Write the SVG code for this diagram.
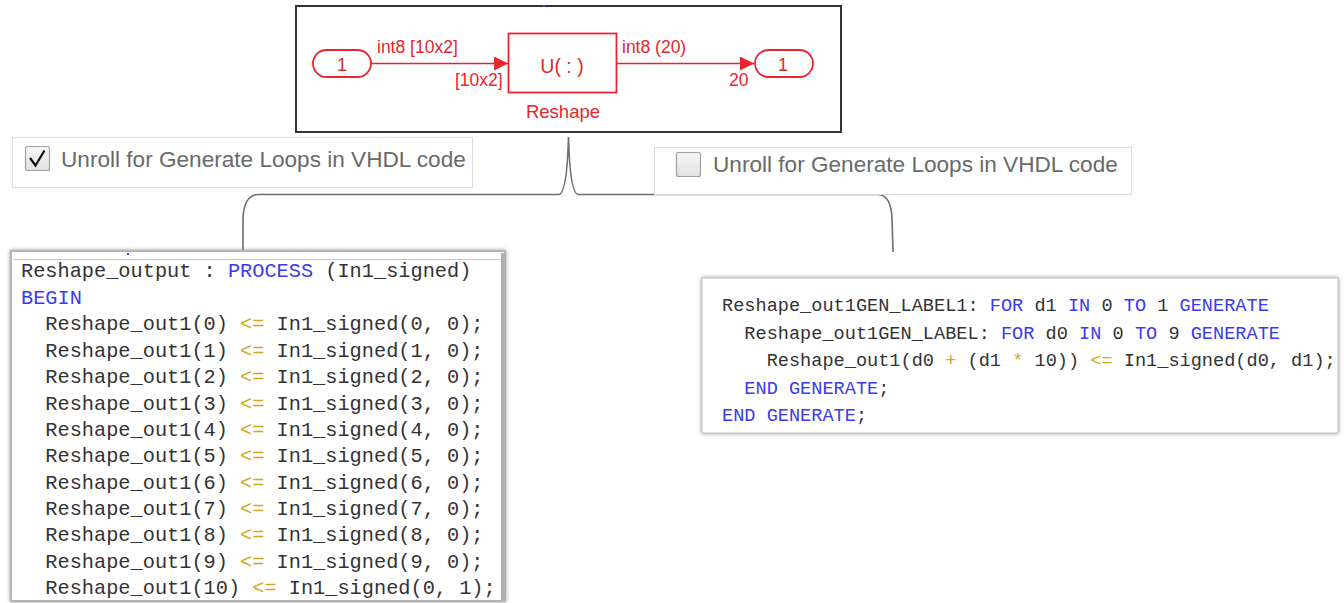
<svg xmlns="http://www.w3.org/2000/svg" width="1344" height="603" viewBox="0 0 1344 603">
  <defs>
    <style>
      .sl { fill: #e8262c; font-family: "Liberation Sans", Arial, sans-serif; }
      .sig { stroke: #e8262c; stroke-width: 1.6; fill: none; }
      .port { fill: #ffffff; stroke: #e8262c; stroke-width: 1.8; }
      .opt { fill: #6a6a6a; font-family: "Liberation Sans", Arial, sans-serif; font-size: 22.6px; }
      .optbox { fill: #ffffff; stroke: #dcdcdc; stroke-width: 1; }
      .chk { fill: url(#chkfill); stroke: #a0a0a0; stroke-width: 1.2; }
      .code { fill: #333333; font-family: "Liberation Mono", "Courier New", monospace; white-space: pre; }
      .kw { fill: #3a3af2; }
      .op { fill: #d1a81c; }
      .brace { fill: none; stroke: #6e6e6e; stroke-width: 1.6; }
    </style>
    <linearGradient id="chkfill" x1="0" y1="0" x2="0" y2="1">
      <stop offset="0" stop-color="#f6f6f6"/>
      <stop offset="1" stop-color="#e2e2e2"/>
    </linearGradient>
    <marker id="arr" markerWidth="14" markerHeight="14" refX="14" refY="7" orient="auto" markerUnits="userSpaceOnUse">
      <path d="M0,0 L14,7 L0,14 Z" fill="#e8262c"/>
    </marker>
    <filter id="shadow" x="-5%" y="-5%" width="110%" height="110%">
      <feDropShadow dx="0" dy="0" stdDeviation="2.2" flood-color="#808080" flood-opacity="0.8"/>
    </filter>
  </defs>

  <rect width="1344" height="603" fill="#ffffff"/>

  <!-- Simulink model: Inport -> Reshape -> Outport -->
  <g id="model">
    <rect x="296" y="6" width="545" height="126" fill="#ffffff" stroke="#333333" stroke-width="2"/>
    <rect x="543" y="5" width="2" height="2" fill="#3a3af2"/>
  </g>

  <g id="connectors">
    <line class="sig" x1="371" y1="63.5" x2="508" y2="63.5" marker-end="url(#arr)"/>
    <line class="sig" x1="617" y1="63.5" x2="754" y2="63.5" marker-end="url(#arr)"/>
    <!-- brace from the model to both code views -->
    <path class="brace" d="M243,250 L243,218 Q244,195 258,194.5 L559,194.5 Q567,193 568.5,137 Q570,193 578,194.5 L878,194.5 Q891,195 892,218 L893,252"/>
  </g>

  <g id="inport">
    <rect class="port" x="313" y="50" width="58" height="27" rx="13.5"/>
    <text class="sl" x="342" y="71" font-size="18" text-anchor="middle">1</text>
  </g>
  <g id="reshape">
    <rect x="508.5" y="33.5" width="108" height="59" fill="#ffffff" stroke="#e8262c" stroke-width="1.8"/>
    <text class="sl" x="562" y="73" font-size="19.5" text-anchor="middle">U( : )</text>
    <text class="sl" x="563" y="118" font-size="18.5" text-anchor="middle">Reshape</text>
  </g>
  <g id="outport">
    <rect class="port" x="755" y="50" width="58" height="27" rx="13.5"/>
    <text class="sl" x="783" y="71" font-size="18" text-anchor="middle">1</text>
  </g>
  <g id="signal-labels">
    <text class="sl" x="377" y="53" font-size="17.5">int8 [10x2]</text>
    <text class="sl" x="455" y="86" font-size="17.5">[10x2]</text>
    <text class="sl" x="622" y="53" font-size="17.5">int8 (20)</text>
    <text class="sl" x="729" y="86" font-size="17.5">20</text>
  </g>

  <!-- option: unroll checked -->
  <g id="opt-checked">
    <rect class="optbox" x="12.5" y="137.5" width="460" height="50"/>
    <rect class="chk" x="25.5" y="146.5" width="24" height="24" rx="2"/>
    <path d="M30,158 L35.5,165.5 L44.5,150.5" fill="none" stroke="#111111" stroke-width="2.2"/>
    <text class="opt" x="61" y="166.5">Unroll for Generate Loops in VHDL code</text>
  </g>

  <!-- option: unroll unchecked -->
  <g id="opt-unchecked">
    <rect class="optbox" x="654.5" y="147.5" width="477" height="47"/>
    <rect class="chk" x="676.5" y="152.5" width="24" height="24" rx="2"/>
    <text class="opt" x="713" y="172">Unroll for Generate Loops in VHDL code</text>
  </g>

  <!-- unrolled VHDL -->
  <g id="code-unrolled">
    <rect x="11" y="251" width="494" height="350" fill="#ffffff" stroke="#b4b4b4" stroke-width="2" filter="url(#shadow)"/>
    <line x1="13" y1="259.5" x2="502" y2="259.5" stroke="#c8c8c8" stroke-width="1"/>
    <rect x="501" y="253" width="5" height="347" fill="#b0b0b0"/>
    <rect x="127" y="253" width="2" height="2" fill="#3a3af2"/>
    <text class="code" font-size="20.3">
      <tspan x="21" y="277">Reshape_output : <tspan class="kw">PROCESS</tspan> (In1_signed)</tspan>
      <tspan x="21" y="303.5" class="kw">BEGIN</tspan>
      <tspan x="21" y="330">  Reshape_out1(0) <tspan class="op">&lt;=</tspan> In1_signed(0, 0);</tspan>
      <tspan x="21" y="356.5">  Reshape_out1(1) <tspan class="op">&lt;=</tspan> In1_signed(1, 0);</tspan>
      <tspan x="21" y="383">  Reshape_out1(2) <tspan class="op">&lt;=</tspan> In1_signed(2, 0);</tspan>
      <tspan x="21" y="409.5">  Reshape_out1(3) <tspan class="op">&lt;=</tspan> In1_signed(3, 0);</tspan>
      <tspan x="21" y="436">  Reshape_out1(4) <tspan class="op">&lt;=</tspan> In1_signed(4, 0);</tspan>
      <tspan x="21" y="462">  Reshape_out1(5) <tspan class="op">&lt;=</tspan> In1_signed(5, 0);</tspan>
      <tspan x="21" y="488.5">  Reshape_out1(6) <tspan class="op">&lt;=</tspan> In1_signed(6, 0);</tspan>
      <tspan x="21" y="515">  Reshape_out1(7) <tspan class="op">&lt;=</tspan> In1_signed(7, 0);</tspan>
      <tspan x="21" y="541">  Reshape_out1(8) <tspan class="op">&lt;=</tspan> In1_signed(8, 0);</tspan>
      <tspan x="21" y="567.5">  Reshape_out1(9) <tspan class="op">&lt;=</tspan> In1_signed(9, 0);</tspan>
      <tspan x="21" y="594">  Reshape_out1(10) <tspan class="op">&lt;=</tspan> In1_signed(0, 1);</tspan>
    </text>
  </g>

  <!-- generate-loop VHDL -->
  <g id="code-generate">
    <rect x="702" y="278" width="636" height="155" fill="#ffffff" stroke="#c0c0c0" stroke-width="1" filter="url(#shadow)"/>
    <text class="code" font-size="18.6">
      <tspan x="722" y="311">Reshape_out1GEN_LABEL1: <tspan class="kw">FOR</tspan> d1 <tspan class="kw">IN</tspan> 0 <tspan class="kw">TO</tspan> 1 <tspan class="kw">GENERATE</tspan></tspan>
      <tspan x="722" y="338.5">  Reshape_out1GEN_LABEL: <tspan class="kw">FOR</tspan> d0 <tspan class="kw">IN</tspan> 0 <tspan class="kw">TO</tspan> 9 <tspan class="kw">GENERATE</tspan></tspan>
      <tspan x="722" y="366">    Reshape_out1(d0 <tspan class="op">+</tspan> (d1 <tspan class="op">*</tspan> 10)) <tspan class="op">&lt;=</tspan> In1_signed(d0, d1);</tspan>
      <tspan x="722" y="393.5">  <tspan class="kw">END GENERATE</tspan>;</tspan>
      <tspan x="722" y="421"><tspan class="kw">END GENERATE</tspan>;</tspan>
    </text>
  </g>
</svg>
